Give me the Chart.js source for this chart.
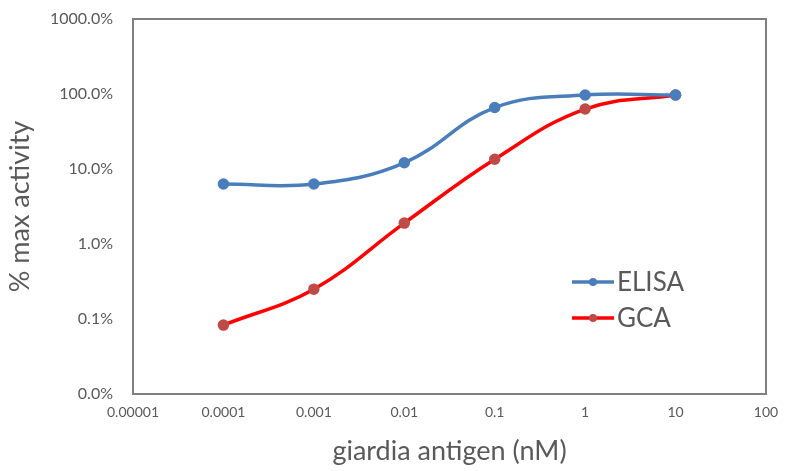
<!DOCTYPE html>
<html>
<head>
<meta charset="utf-8">
<script src="https://cdn.jsdelivr.net/npm/chart.js@4"></script>
<style>
  body { margin: 0; background: #fff; }
</style>
</head>
<body>
<canvas id="myChart" width="786" height="471"></canvas>
<script>
// antigen concentration (nM)
const concentrations = [0.0001, 0.001, 0.01, 0.1, 1, 10];
// % max activity
const elisaValues = [6.3, 6.3, 12.1, 66, 97, 97];
const gcaValues = [0.083, 0.25, 1.9, 13.5, 63, 97];
const xTicks = [0.00001, 0.0001, 0.001, 0.01, 0.1, 1, 10, 100];
const yTicks = [0.01, 0.1, 1, 10, 100, 1000];

const gray = "#595959";
const font = "Lato, 'Open Sans', sans-serif";

const toPoints = (vals) => vals.map((v, i) => ({ x: concentrations[i], y: v }));

// box around plot + legend inside plot
const boxAndLegend = {
  id: "boxAndLegend",
  afterDraw(chart) {
    const { ctx, chartArea } = chart;
    ctx.save();
    ctx.strokeStyle = "#7f7f7f";
    ctx.lineWidth = 2;
    ctx.strokeRect(chartArea.left, chartArea.top, chartArea.right - chartArea.left, chartArea.bottom - chartArea.top);

    const items = chart.data.datasets;
    let x0 = chartArea.left + 439;
    let y0 = chartArea.top + 263;
    items.forEach((ds, i) => {
      const y = y0 + i * 36;
      ctx.strokeStyle = ds.borderColor;
      ctx.lineWidth = 3.5;
      ctx.beginPath();
      ctx.moveTo(x0, y);
      ctx.lineTo(x0 + 42, y);
      ctx.stroke();
      ctx.fillStyle = ds.pointBackgroundColor;
      ctx.beginPath();
      ctx.arc(x0 + 21, y, 4, 0, Math.PI * 2);
      ctx.fill();
      ctx.fillStyle = gray;
      ctx.font = "26px " + font;
      ctx.textBaseline = "middle";
      ctx.textAlign = "left";
      ctx.fillText(ds.label, x0 + 45, y + 1);
    });
    ctx.restore();
  }
};

const ctx = document.getElementById("myChart");

new Chart(ctx, {
  type: "line",
  data: {
    datasets: [
      {
        label: "ELISA",
        data: toPoints(elisaValues),
        borderColor: "#4a7ebb",
        backgroundColor: "#4a7ebb",
        pointBackgroundColor: "#4a7ebb",
        pointBorderColor: "#4a7ebb",
        borderWidth: 3.5,
        pointRadius: 4,
        tension: 0.4,
      },
      {
        label: "GCA",
        data: toPoints(gcaValues),
        borderColor: "#ff0000",
        backgroundColor: "#be4b48",
        pointBackgroundColor: "#be4b48",
        pointBorderColor: "#be4b48",
        borderWidth: 3.5,
        pointRadius: 4,
        tension: 0.4,
      },
    ],
  },
  options: {
    responsive: false,
    animation: false,
    layout: { padding: { top: 19, right: 20, left: 0, bottom: 0 } },
    plugins: {
      legend: { display: false },
      tooltip: { enabled: false },
    },
    scales: {
      x: {
        type: "logarithmic",
        min: 0.00001,
        max: 100,
        afterBuildTicks: (scale) => { scale.ticks = xTicks.map((v) => ({ value: v })); },
        afterFit: (scale) => { scale.height = 77; scale.paddingLeft = 0; scale.paddingRight = 0; },
        grid: { display: false, drawTicks: false },
        border: { display: false },
        ticks: {
          color: gray,
          font: { family: font, size: 14 },
          padding: 10,
          maxRotation: 0,
          autoSkip: false,
          callback: (v) => Number(v).toString(),
        },
        title: {
          display: true,
          text: "giardia antigen (nM)",
          color: gray,
          font: { family: font, size: 27 },
          padding: { top: 12 },
        },
      },
      y: {
        type: "logarithmic",
        min: 0.01,
        max: 1000,
        afterBuildTicks: (scale) => { scale.ticks = yTicks.map((v) => ({ value: v })); },
        afterFit: (scale) => { scale.width = 133; scale.paddingTop = 0; scale.paddingBottom = 0; },
        grid: { display: false, drawTicks: false },
        border: { display: false },
        ticks: {
          color: gray,
          font: { family: font, size: 16 },
          padding: 20,
          autoSkip: false,
          callback: (v) => Number(v).toFixed(1) + "%",
        },
        title: {
          display: true,
          text: "% max activity",
          color: gray,
          font: { family: font, size: 27 },
          padding: { top: 4, bottom: 0 },
        },
      },
    },
  },
  plugins: [boxAndLegend],
});
</script>
</body>
</html>
